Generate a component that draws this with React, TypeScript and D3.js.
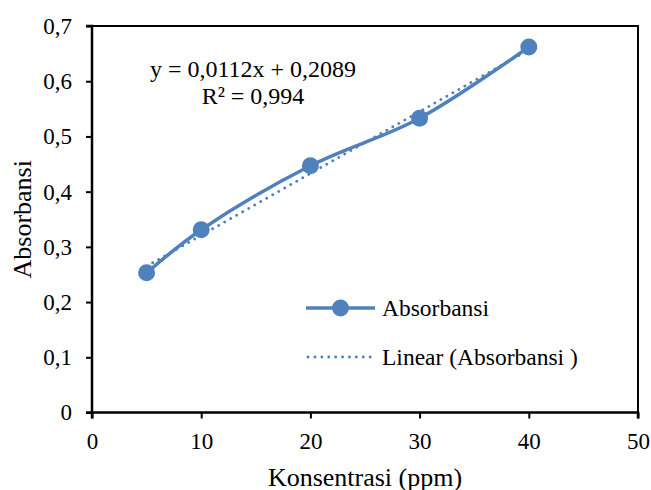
import { useEffect, useRef } from "react";
import * as d3 from "d3";

const konsentrasi = [5, 10, 20, 30, 40];
const absorbansi = [0.253, 0.331, 0.447, 0.533, 0.662];
const slope = 0.0112;
const intercept = 0.2089;
const xTicks = [0, 10, 20, 30, 40, 50];
const yTicks = [0, 0.1, 0.2, 0.3, 0.4, 0.5, 0.6, 0.7];
const equationLines = ["y = 0,0112x + 0,2089", "R² = 0,994"];
const legendLabels = ["Absorbansi", "Linear (Absorbansi )"];

const W = 651;
const H = 490;
const blue = "#4f81bd";
const font = "'Liberation Serif', 'Times New Roman', serif";

const App = () => {
  const ref = useRef<SVGSVGElement>(null);

  useEffect(() => {
    const svg = d3.select(ref.current);
    svg.selectAll("*").remove();

    const margin = { top: 26, right: 13, bottom: 78, left: 92 };
    const width = 638 - margin.left;
    const height = 412.5 - margin.top;

    const g = svg.append("g").attr("transform", `translate(${margin.left},${margin.top})`);

    const x = d3.scaleLinear().domain([0, 50]).range([0, width]);
    const y = d3.scaleLinear().domain([0, 0.7]).range([height, 0]);

    // frame (top and right)
    g.append("path")
      .attr("d", `M0,0 H${width} V${height}`)
      .attr("fill", "none")
      .attr("stroke", "#000")
      .attr("stroke-width", 2);

    const fmt = (d: number) => (d === 0 ? "0" : d3.format(".1f")(d).replace(".", ","));

    const yAxis = g.append("g").call(d3.axisLeft(y).tickValues(yTicks).tickSize(6).tickPadding(14).tickFormat((d) => fmt(d as number)));
    const xAxis = g.append("g").attr("transform", `translate(0,${height})`)
      .call(d3.axisBottom(x).tickValues(xTicks).tickSize(6).tickPadding(14).tickFormat((d) => String(d)));

    [yAxis, xAxis].forEach((a) => {
      a.select(".domain").attr("stroke", "#000").attr("stroke-width", 2.5);
      a.selectAll(".tick line").attr("stroke", "#000").attr("stroke-width", 2);
      a.selectAll(".tick text").attr("font-family", font).attr("font-size", 23).attr("fill", "#000");
    });
    xAxis.select(".domain").attr("d", `M0,6V0H${width}V6`);
    xAxis.selectAll(".tick line").attr("y1", 0);
    yAxis.select(".domain").attr("d", `M-6,0H0V${height}H-6`);

    // trendline
    const trend = [5, 40].map((v) => [x(v), y(slope * v + intercept)] as [number, number]);
    g.append("path")
      .attr("d", d3.line()(trend))
      .attr("fill", "none")
      .attr("stroke", blue)
      .attr("stroke-width", 2.8)
      .attr("stroke-linecap", "round")
      .attr("stroke-dasharray", "0.1 6.8");

    // smoothed series
    const pts = konsentrasi.map((v, i) => [x(v), y(absorbansi[i])] as [number, number]);
    g.append("path")
      .attr("d", d3.line().curve(d3.curveCatmullRom.alpha(0.5))(pts))
      .attr("fill", "none")
      .attr("stroke", blue)
      .attr("stroke-width", 3.5)
      .attr("stroke-linejoin", "round");

    g.selectAll(".dot")
      .data(pts)
      .enter().append("circle")
      .attr("cx", (d) => d[0])
      .attr("cy", (d) => d[1])
      .attr("r", 8.5)
      .attr("fill", blue);

    // equation
    svg.append("text")
      .attr("x", 253)
      .attr("y", 77)
      .attr("text-anchor", "middle")
      .attr("font-family", font)
      .attr("font-size", 24)
      .selectAll("tspan")
      .data(equationLines)
      .enter().append("tspan")
      .attr("x", 253)
      .attr("dy", (_, i) => (i === 0 ? 0 : 27))
      .text((d) => d);

    // legend
    const lx0 = 306;
    const lx1 = 375;
    svg.append("line").attr("x1", lx0).attr("x2", lx1).attr("y1", 308).attr("y2", 308)
      .attr("stroke", blue).attr("stroke-width", 3.5);
    svg.append("circle").attr("cx", (lx0 + lx1) / 2).attr("cy", 308).attr("r", 8.5).attr("fill", blue);
    svg.append("line").attr("x1", lx0 + 2).attr("x2", lx1).attr("y1", 357).attr("y2", 357)
      .attr("stroke", blue).attr("stroke-width", 2.8).attr("stroke-linecap", "round")
      .attr("stroke-dasharray", "0.1 6.8");
    legendLabels.forEach((t, i) => {
      svg.append("text")
        .attr("x", 382)
        .attr("y", 308 + i * 49)
        .attr("dy", "0.33em")
        .attr("font-family", font)
        .attr("font-size", 23.5)
        .text(t);
    });

    // axis titles
    svg.append("text")
      .attr("transform", `translate(31,${margin.top + height / 2}) rotate(-90)`)
      .attr("text-anchor", "middle")
      .attr("font-family", font)
      .attr("font-size", 26)
      .text("Absorbansi");
    svg.append("text")
      .attr("x", margin.left + width / 2)
      .attr("y", 486)
      .attr("text-anchor", "middle")
      .attr("font-family", font)
      .attr("font-size", 26)
      .text("Konsentrasi (ppm)");
  }, []);

  return (
    <svg ref={ref} width={W} height={H} style={{ position: "absolute", left: 0, top: 0, background: "#fff" }} />
  );
};

export default App;
